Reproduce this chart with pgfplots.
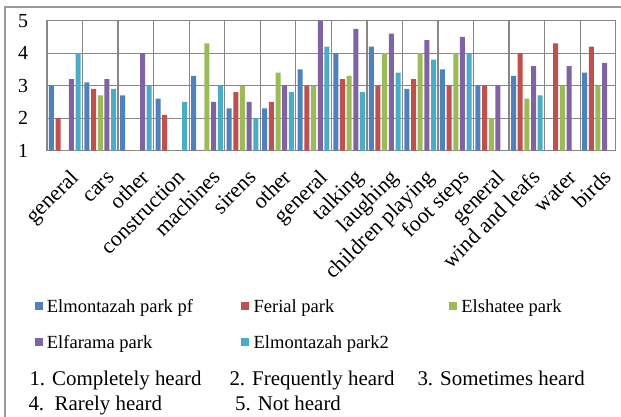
\documentclass[border=0pt]{standalone}
\usepackage{fontspec}
\setmainfont{Liberation Serif}
\usepackage{pgfplots}
\usepackage{pgfplotstable}
\pgfplotsset{compat=1.18}
\definecolor{c1}{HTML}{4F81BD}
\definecolor{c2}{HTML}{C0504D}
\definecolor{c3}{HTML}{9BBB59}
\definecolor{c4}{HTML}{8064A2}
\definecolor{c5}{HTML}{4BACC6}
\definecolor{gridgray}{HTML}{878787}
\definecolor{framegray}{HTML}{9A9A9A}
\pgfplotstableread{
x a b c d e
0 3.0 2.0 0 3.2 4.0
1 3.1 2.9 2.7 3.2 2.9
2 2.7 0 0 4.0 3.0
3 2.6 2.1 0 0 2.5
4 3.3 0 4.3 2.5 3.0
5 2.3 2.8 3.0 2.5 2.0
6 2.3 2.5 3.4 3.0 2.8
7 3.5 3.0 3.0 5.0 4.2
8 4.0 3.2 3.3 4.75 2.8
9 4.2 3.0 4.0 4.6 3.4
10 2.9 3.2 4.0 4.4 3.8
11 3.5 3.0 4.0 4.5 4.0
12 3.0 3.0 2.0 3.0 0
13 3.3 4.0 2.6 3.6 2.7
14 0 4.3 3.0 3.6 0
15 3.4 4.2 3.0 3.7 0
}\data
\begin{document}
\begin{tikzpicture}
\path[use as bounding box] (0,0) rectangle (621bp,-417bp);
\draw[framegray, line width=1.3bp] (5bp,-430bp) -- (5bp,-7bp) -- (630bp,-7bp);
\begin{axis}[
  at={(47bp,-150.7bp)}, anchor=south west,
  scale only axis, width=568.7bp, height=130bp,
  xmin=-0.5, xmax=15.5, ymin=1, ymax=5,
  ytick={1,2,3,4,5},
  xtick={0,...,15},
  xticklabels={general,cars,other,construction,machines,sirens,other,general,talking,laughing,children playing,foot steps,general,wind and leafs,water,birds},
  minor xtick={0.5,1.5,...,14.5},
  xminorgrids, ymajorgrids,
  major tick length=0pt, minor tick length=0pt,
  grid style={gridgray, line width=1.3bp},
  minor grid style={gridgray, line width=1.3bp},
  axis line style={gridgray, line width=1.3bp},
  ybar=1.67bp, bar width=5bp,
  /pgf/number format/assume math mode=true,
  yticklabel style={font=\fontsize{20}{24}\selectfont, anchor=east, inner sep=0pt, xshift=-18.7bp},
  xticklabel style={font=\fontsize{22}{26}\selectfont, inner sep=0pt, xshift=15bp, yshift=-28bp, rotate=45, anchor=base east},
  legend columns=3,
  legend cell align=left,
  legend image code/.code={\fill[#1] (0bp,-2.5bp) rectangle (8bp,5.5bp);},
  legend style={at={(axis description cs:-0.0223,-1.143)}, anchor=north west,
    draw=none, fill=none, inner sep=0pt,
    font=\fontsize{18.6}{22}\selectfont,
    nodes={inner sep=0pt, text height=13bp, text depth=4bp},
    row sep=19bp,
    /tikz/every odd column/.append style={column sep=4.4bp},
    /tikz/every even column/.append style={column sep=0pt}},
]
\addplot[fill=c1, draw=none] table[x=x, y=a] {\data};
\addlegendentry{\makebox[194.3bp][l]{Elmontazah park pf}}
\addplot[fill=c2, draw=none] table[x=x, y=b] {\data};
\addlegendentry{\makebox[195.3bp][l]{Ferial park}}
\addplot[fill=c3, draw=none] table[x=x, y=c] {\data};
\addlegendentry{Elshatee park}
\addplot[fill=c4, draw=none] table[x=x, y=d] {\data};
\addlegendentry{\makebox[194.3bp][l]{Elfarama park}}
\addplot[fill=c5, draw=none] table[x=x, y=e] {\data};
\addlegendentry{\makebox[195.3bp][l]{Elmontazah park2}}
\end{axis}
\begin{scope}[every node/.style={anchor=base west, inner sep=0pt, font=\fontsize{21}{25}\selectfont}]
\node at (29.3bp,-385bp) {1. Completely heard};
\node at (229.3bp,-385bp) {2. Frequently heard};
\node at (417.3bp,-385bp) {3. Sometimes heard};
\node at (28.3bp,-410bp) {4.\ \ Rarely heard};
\node at (235bp,-410bp) {5. Not heard};
\end{scope}
\end{tikzpicture}
\end{document}
